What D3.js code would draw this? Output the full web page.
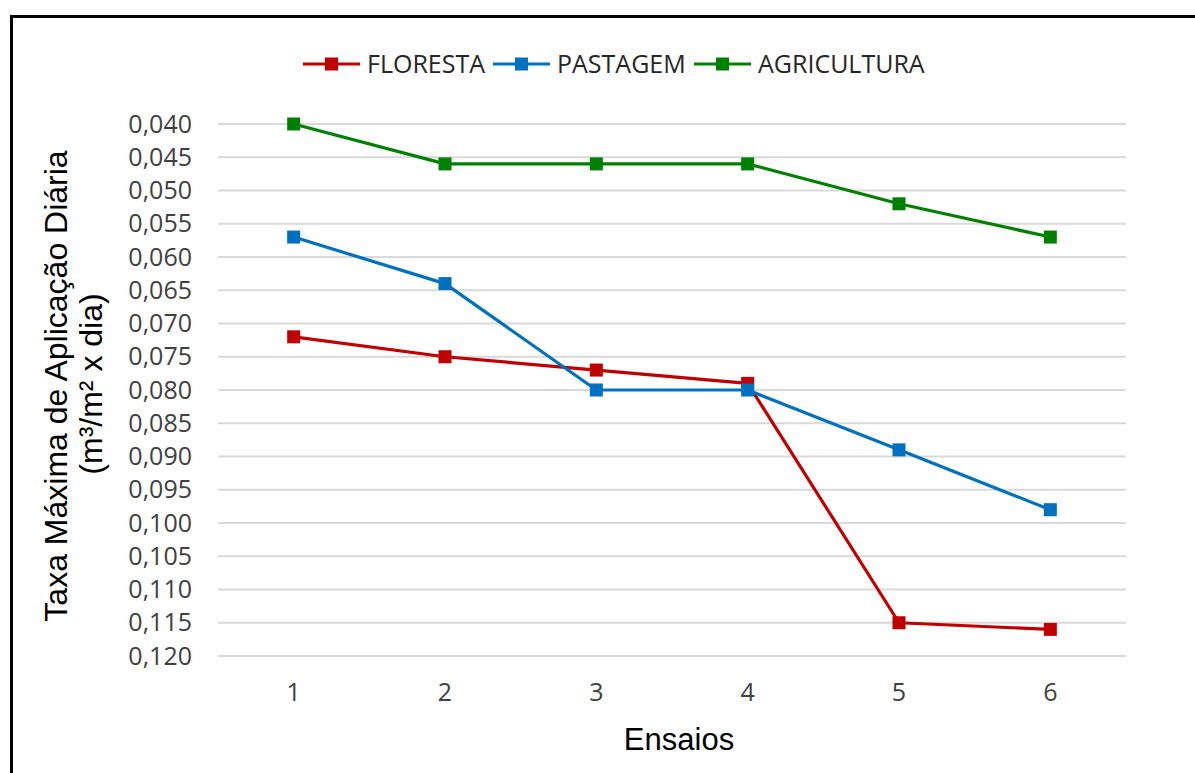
<!DOCTYPE html>
<html>
<head>
<meta charset="utf-8">
<script src="https://cdn.jsdelivr.net/npm/d3@7"></script>
<style>
  html, body { margin: 0; padding: 0; background: #fff; }
  svg { display: block; }
</style>
</head>
<body>
<script>
// Ensaios (x categories)
const ensaios = [1, 2, 3, 4, 5, 6];

// Taxa máxima de aplicação diária (m³/m² x dia) per land use
const floresta    = [0.072, 0.075, 0.077, 0.079, 0.115, 0.116];
const pastagem    = [0.057, 0.064, 0.080, 0.080, 0.089, 0.098];
const agricultura = [0.040, 0.046, 0.046, 0.046, 0.052, 0.057];

const seriesNames  = ["FLORESTA", "PASTAGEM", "AGRICULTURA"];
const seriesColors = ["#C00000", "#0070C0", "#008000"];

// Y axis ticks (inverted axis: 0,040 at top)
const yTicks = [0.040, 0.045, 0.050, 0.055, 0.060, 0.065, 0.070, 0.075, 0.080,
                0.085, 0.090, 0.095, 0.100, 0.105, 0.110, 0.115, 0.120];
const yTickLabels = ["0,040", "0,045", "0,050", "0,055", "0,060", "0,065", "0,070",
                     "0,075", "0,080", "0,085", "0,090", "0,095", "0,100", "0,105",
                     "0,110", "0,115", "0,120"];

const W = 1195, H = 773;
const plot = { left: 218, right: 1126, top: 124, bottom: 656 };
const tickFont = "'Open Sans', 'Noto Sans', sans-serif";
const titleFont = "'Liberation Sans', Arial, sans-serif";

const svg = d3.select("body").append("svg")
  .attr("width", W).attr("height", H);

svg.append("rect").attr("width", W).attr("height", H).attr("fill", "#fff");

// Outer frame (top and left edges visible)
svg.append("path")
  .attr("d", `M11.5,${H} L11.5,16.5 L${W},16.5`)
  .attr("fill", "none").attr("stroke", "#000").attr("stroke-width", 3);

const x = d3.scaleBand().domain(ensaios).range([plot.left, plot.right]);
const y = d3.scaleLinear().domain([0.040, 0.120]).range([plot.top, plot.bottom]);
const xc = d => x(d) + x.bandwidth() / 2;

// Horizontal gridlines
svg.append("g").selectAll("line").data(yTicks).join("line")
  .attr("x1", plot.left).attr("x2", plot.right)
  .attr("y1", d => y(d)).attr("y2", d => y(d))
  .attr("stroke", "#D9D9D9").attr("stroke-width", 2);

// Y axis labels
const yAxis = d3.axisLeft(y).tickValues(yTicks)
  .tickFormat((d, i) => yTickLabels[i]).tickSize(0).tickPadding(26);
const gy = svg.append("g").attr("transform", `translate(${plot.left},0)`).call(yAxis);
gy.select(".domain").remove();
gy.selectAll("text")
  .attr("font-family", tickFont).attr("font-size", 25).attr("fill", "#404040");

// X axis labels
const xAxis = d3.axisBottom(x).tickSize(0).tickPadding(27);
const gx = svg.append("g").attr("transform", `translate(0,${plot.bottom})`).call(xAxis);
gx.select(".domain").remove();
gx.selectAll("text")
  .attr("font-family", tickFont).attr("font-size", 25).attr("fill", "#404040");

// Axis titles
svg.append("text")
  .attr("transform", `translate(67,386) rotate(-90)`)
  .attr("text-anchor", "middle")
  .attr("font-family", titleFont).attr("font-size", 32).attr("fill", "#000")
  .text("Taxa Máxima de Aplicação Diária");
svg.append("text")
  .attr("transform", `translate(102,384) rotate(-90)`)
  .attr("text-anchor", "middle")
  .attr("font-family", titleFont).attr("font-size", 32).attr("fill", "#000")
  .text("(m³/m² x dia)");
svg.append("text")
  .attr("x", 679).attr("y", 750)
  .attr("text-anchor", "middle")
  .attr("font-family", titleFont).attr("font-size", 31).attr("fill", "#000")
  .text("Ensaios");

// Series lines and markers
const allSeries = [floresta, pastagem, agricultura];
const line = d3.line().x((d, i) => xc(ensaios[i])).y(d => y(d));
const msize = 13;

allSeries.forEach((vals, s) => {
  const g = svg.append("g");
  g.append("path").datum(vals)
    .attr("d", line).attr("fill", "none")
    .attr("stroke", seriesColors[s]).attr("stroke-width", 3.2)
    .attr("stroke-linejoin", "round");
  g.selectAll("rect").data(vals).join("rect")
    .attr("x", (d, i) => xc(ensaios[i]) - msize / 2)
    .attr("y", d => y(d) - msize / 2)
    .attr("width", msize).attr("height", msize)
    .attr("fill", seriesColors[s]);
});

// Legend
const legendX = [303, 493, 694];
const legendY = 64;
seriesNames.forEach((name, s) => {
  const g = svg.append("g").attr("transform", `translate(${legendX[s]},${legendY})`);
  g.append("line").attr("x1", 0).attr("x2", 57).attr("y1", 0).attr("y2", 0)
    .attr("stroke", seriesColors[s]).attr("stroke-width", 3.2);
  g.append("rect").attr("x", 28.5 - msize / 2).attr("y", -msize / 2)
    .attr("width", msize).attr("height", msize).attr("fill", seriesColors[s]);
  g.append("text").attr("x", 64).attr("y", 0).attr("dy", "0.36em")
    .attr("font-family", tickFont).attr("font-size", 25).attr("fill", "#262626")
    .text(name);
});
</script>
</body>
</html>
